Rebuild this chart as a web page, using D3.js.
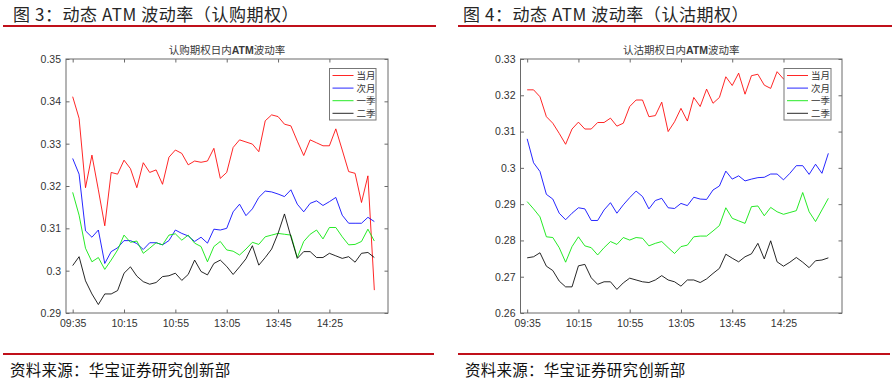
<!DOCTYPE html>
<html><head><meta charset="utf-8">
<script src="https://cdn.jsdelivr.net/npm/d3@7/dist/d3.min.js"></script>
<style>body{margin:0;background:#fff}svg{display:block}</style>
</head><body>
<svg id="c" width="896" height="382"></svg>
<script>
// ---------- data ----------
const timeLabels = ["09:35","10:15","10:55","13:05","13:45","14:25"];
const timeTickIndex = [0,8,16,24,32,40];
const seriesNames = ["当月","次月","一季","二季"];
const seriesColors = ["#ff0000","#0000ff","#00e600","#000000"];

const callFront = [0.3411,0.3360,0.3196,0.3273,0.3191,0.3106,0.3232,0.3228,0.3261,0.3241,0.3196,0.3255,0.3232,0.3238,0.3204,0.3268,0.3285,0.3277,0.3250,0.3259,0.3256,0.3259,0.3289,0.3218,0.3232,0.3291,0.3309,0.3304,0.3299,0.3281,0.3354,0.3368,0.3364,0.3346,0.3342,0.3306,0.3272,0.3309,0.3302,0.3295,0.3295,0.3335,0.3285,0.3234,0.3230,0.3161,0.3224,0.2954];
const callNext = [0.3265,0.3228,0.3094,0.3079,0.3096,0.3017,0.3045,0.3054,0.3071,0.3071,0.3064,0.3050,0.3066,0.3066,0.3061,0.3071,0.3096,0.3088,0.3082,0.3069,0.3079,0.3065,0.3098,0.3096,0.3100,0.3139,0.3157,0.3130,0.3146,0.3173,0.3188,0.3186,0.3181,0.3175,0.3191,0.3157,0.3139,0.3159,0.3165,0.3154,0.3163,0.3173,0.3131,0.3112,0.3112,0.3112,0.3126,0.3116];
const callQ1 = [0.3185,0.3131,0.3053,0.3021,0.3031,0.3003,0.3025,0.3049,0.3084,0.3067,0.3070,0.3041,0.3053,0.3066,0.3061,0.3084,0.3087,0.3072,0.3084,0.3065,0.3057,0.3021,0.3057,0.3069,0.3049,0.3046,0.3037,0.3051,0.3067,0.3062,0.3080,0.3084,0.3088,0.3086,0.3084,0.3031,0.3069,0.3086,0.3096,0.3075,0.3102,0.3102,0.3080,0.3061,0.3062,0.3069,0.3098,0.3070];
const callQ2 = [0.3012,0.3033,0.2976,0.2945,0.2920,0.2945,0.2945,0.2953,0.2994,0.3009,0.2987,0.2974,0.2968,0.2972,0.2986,0.2988,0.2994,0.2977,0.2991,0.3025,0.2998,0.2990,0.3017,0.3025,0.3010,0.2991,0.3009,0.3028,0.3059,0.3013,0.3031,0.3051,0.3088,0.3134,0.3080,0.3029,0.3045,0.3045,0.3031,0.3031,0.3041,0.3035,0.3029,0.3033,0.3020,0.3041,0.3043,0.3031];

const putFront = [0.3215,0.3215,0.3196,0.3141,0.3123,0.3095,0.3065,0.3107,0.3126,0.3107,0.3107,0.3125,0.3125,0.3137,0.3115,0.3123,0.3169,0.3187,0.3187,0.3141,0.3144,0.3181,0.3100,0.3127,0.3164,0.3129,0.3194,0.3169,0.3217,0.3178,0.3194,0.3251,0.3227,0.3261,0.3203,0.3254,0.3258,0.3228,0.3219,0.3265,0.3245,0.3255,0.3262,0.3250,0.3258,0.3265,0.3255,0.3262];
const putNext = [0.3080,0.3014,0.2990,0.2927,0.2914,0.2875,0.2857,0.2875,0.2890,0.2887,0.2855,0.2855,0.2884,0.2904,0.2875,0.2898,0.2918,0.2936,0.2921,0.2887,0.2910,0.2916,0.2890,0.2888,0.2902,0.2896,0.2919,0.2914,0.2913,0.2939,0.2950,0.2991,0.2969,0.2978,0.2964,0.2969,0.2973,0.2974,0.2983,0.2983,0.2967,0.2985,0.3006,0.3006,0.2982,0.3010,0.2985,0.3040];
const putQ1 = [0.2907,0.2887,0.2865,0.2810,0.2808,0.2780,0.2740,0.2783,0.2810,0.2785,0.2780,0.2760,0.2780,0.2797,0.2789,0.2808,0.2801,0.2808,0.2806,0.2785,0.2792,0.2797,0.2780,0.2764,0.2783,0.2787,0.2810,0.2812,0.2812,0.2826,0.2841,0.2890,0.2861,0.2854,0.2847,0.2893,0.2895,0.2868,0.2891,0.2879,0.2872,0.2877,0.2882,0.2932,0.2879,0.2852,0.2884,0.2916];
const putQ2 = [0.2752,0.2755,0.2766,0.2729,0.2717,0.2688,0.2672,0.2672,0.2730,0.2734,0.2697,0.2679,0.2686,0.2686,0.2665,0.2683,0.2696,0.2691,0.2686,0.2684,0.2691,0.2703,0.2691,0.2686,0.2674,0.2691,0.2691,0.2684,0.2694,0.2709,0.2723,0.2762,0.2751,0.2741,0.2755,0.2763,0.2792,0.2749,0.2799,0.2741,0.2729,0.2740,0.2753,0.2740,0.2725,0.2744,0.2746,0.2752];

const callYTicks = [0.29,0.30,0.31,0.32,0.33,0.34,0.35];
const putYTicks = [0.26,0.27,0.28,0.29,0.30,0.31,0.32,0.33];

const headers = ["图 3：动态 ATM 波动率（认购期权）","图 4：动态 ATM 波动率（认沽期权）"];
const titles = [["认购期权日内","ATM","波动率"],["认沽期权日内","ATM","波动率"]];
const sourceText = "资料来源：华宝证券研究创新部";

// ---------- drawing ----------
const svg = d3.select("#c");
const RED = "#c0101a";
const cjk = "'Noto Sans CJK SC','Noto Sans',sans-serif";
const latin = "'Liberation Sans',Arial,sans-serif";

const panels = [
  {left:66, right:388, top:59, bottom:313, yDomain:[0.29,0.35], yTicks:callYTicks,
   series:[callFront,callNext,callQ1,callQ2], header:headers[0], title:titles[0],
   hx:13, lineX:[3,436], legend:{x:329.5, y:68.5, w:46.5, h:51.5}},
  {left:520.5, right:842, top:59, bottom:313, yDomain:[0.26,0.33], yTicks:putYTicks,
   series:[putFront,putNext,putQ1,putQ2], header:headers[1], title:titles[1],
   hx:463, lineX:[458,892], legend:{x:784, y:68.5, w:47, h:51.5}}
];

panels.forEach(p => {
  // header
  svg.append("text").attr("x", p.hx).attr("y", 20.5)
    .attr("font-family", cjk).attr("font-size", 17).attr("fill", "#262626")
    .attr("letter-spacing", 0.55)
    .text(p.header);
  svg.append("line").attr("x1", p.lineX[0]).attr("x2", p.lineX[1])
    .attr("y1", 26).attr("y2", 26).attr("stroke", RED).attr("stroke-width", 2.2);
  // footer
  svg.append("line").attr("x1", p.lineX[0]).attr("x2", p.lineX[1] - 2)
    .attr("y1", 354).attr("y2", 354).attr("stroke", RED).attr("stroke-width", 2.2);
  svg.append("text").attr("x", p.lineX[0] + 7).attr("y", 376)
    .attr("font-family", cjk).attr("font-size", 15.5).attr("fill", "#111")
    .attr("letter-spacing", 0.25)
    .text(sourceText);

  const x = d3.scaleLinear().domain([-1.04, 49.13]).range([p.left, p.right]);
  const y = d3.scaleLinear().domain(p.yDomain).range([p.bottom, p.top]);
  const g = svg.append("g");

  // box
  g.append("rect").attr("x", p.left).attr("y", p.top)
    .attr("width", p.right - p.left).attr("height", p.bottom - p.top)
    .attr("fill", "none").attr("stroke", "#6a6a6a").attr("stroke-width", 1);

  const fmt = v => String(+v.toFixed(2));
  // axes
  const xAxis = d3.axisBottom(x).tickValues(timeTickIndex)
    .tickFormat((d, i) => timeLabels[i]).tickSizeInner(-3.5).tickSizeOuter(0).tickPadding(7);
  const gx = g.append("g").attr("transform", `translate(0,${p.bottom})`).call(xAxis);
  const xTop = d3.axisTop(x).tickValues(timeTickIndex).tickFormat("").tickSizeInner(-3.5).tickSizeOuter(0);
  const gxt = g.append("g").attr("transform", `translate(0,${p.top})`).call(xTop);
  const yAxis = d3.axisLeft(y).tickValues(p.yTicks).tickFormat(fmt)
    .tickSizeInner(-3.5).tickSizeOuter(0).tickPadding(5);
  const gy = g.append("g").attr("transform", `translate(${p.left},0)`).call(yAxis);
  const yRight = d3.axisRight(y).tickValues(p.yTicks).tickFormat("").tickSizeInner(-3.5).tickSizeOuter(0);
  const gyr = g.append("g").attr("transform", `translate(${p.right},0)`).call(yRight);
  [gx, gxt, gy, gyr].forEach(a => {
    a.select(".domain").remove();
    a.selectAll(".tick line").attr("stroke", "#6a6a6a");
    a.selectAll(".tick text").attr("font-family", latin).attr("font-size", 10.5).attr("fill", "#333");
  });

  // title
  const t = g.append("text").attr("x", (p.left + p.right) / 2).attr("y", 54)
    .attr("text-anchor", "middle").attr("font-size", 10.5).attr("fill", "#3a3a3a");
  t.append("tspan").attr("font-family", cjk).text(p.title[0]);
  t.append("tspan").attr("font-family", latin).attr("font-weight", "bold").text(p.title[1]);
  t.append("tspan").attr("font-family", cjk).text(p.title[2]);

  // lines
  const line = d3.line().x((d, i) => x(i)).y(d => y(d));
  p.series.forEach((s, k) => {
    g.append("path").datum(s).attr("d", line).attr("fill", "none")
      .attr("stroke", seriesColors[k]).attr("stroke-width", 0.85).attr("stroke-linejoin", "round");
  });

  // legend
  const L = p.legend;
  const lg = g.append("g");
  lg.append("rect").attr("x", L.x).attr("y", L.y).attr("width", L.w).attr("height", L.h)
    .attr("fill", "#fff").attr("stroke", "#777").attr("stroke-width", 1);
  seriesNames.forEach((n, k) => {
    const ry = L.y + 7 + k * 12.6;
    lg.append("line").attr("x1", L.x + 3).attr("x2", L.x + 24).attr("y1", ry).attr("y2", ry)
      .attr("stroke", seriesColors[k]).attr("stroke-width", 0.85);
    lg.append("text").attr("x", L.x + 27).attr("y", ry + 3.6)
      .attr("font-family", cjk).attr("font-size", 9.5).attr("fill", "#333").text(n);
  });
});
</script>
</body></html>
